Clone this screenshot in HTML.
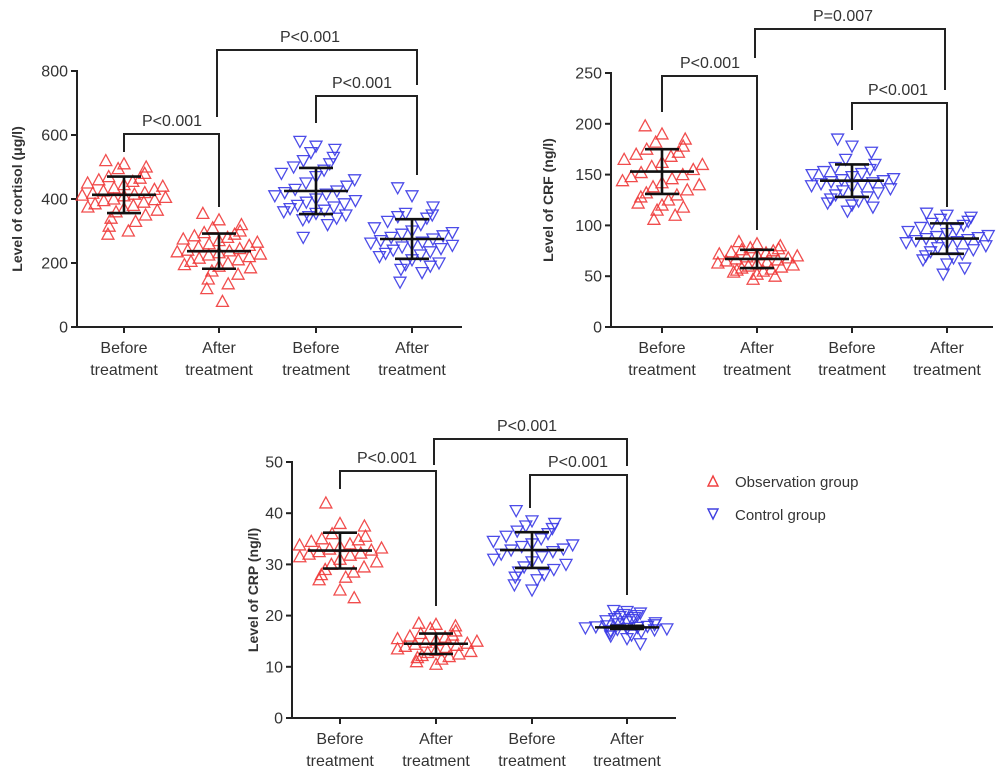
<!DOCTYPE html>
<html><head><meta charset="utf-8">
<style>
html,body{margin:0;padding:0;background:#fff;}
svg{display:block;font-family:"Liberation Sans",Arial,sans-serif;}
</style></head>
<body>
<svg id="fig" width="1004" height="776" viewBox="0 0 1004 776">
  <g id="legend">
    <g>
      <polygon points="708,486 718,486 713,476" fill="none" stroke="#f04040" stroke-width="1.4"/>
      <text x="735" y="487" font-size="15" fill="#333">Observation group</text>
    </g>
    <g>
      <polygon points="708,509 718,509 713,519" fill="none" stroke="#4040e0" stroke-width="1.4"/>
      <text x="735" y="520" font-size="15" fill="#333">Control group</text>
    </g>
  </g>
</svg>
<script>
// ---- Data ----
const categoriesLine1 = ["Before","After","Before","After"];
const categoriesLine2 = ["treatment","treatment","treatment","treatment"];
const groupTypes = ["obs","obs","ctrl","ctrl"];

const cortisolTicks = [0,200,400,600,800];
const cortisolObsBefore = [520,510,500,495,480,470,465,460,455,450,445,440,435,430,425,420,418,415,412,410,405,400,398,395,390,385,380,375,370,365,360,350,340,330,315,300,290];
const cortisolObsAfter = [355,335,320,310,300,295,290,285,280,275,270,265,260,255,250,245,240,238,235,232,228,225,220,215,210,205,200,195,190,185,175,165,150,135,120,80];
const cortisolCtrlBefore = [580,565,555,545,530,520,510,500,490,480,470,460,450,440,430,425,420,415,410,400,395,390,385,380,375,370,365,360,355,350,345,340,335,320,280];
const cortisolCtrlAfter = [435,410,375,355,350,345,340,330,320,310,300,295,290,285,280,275,270,265,262,258,255,250,245,240,235,230,225,220,210,200,195,190,180,170,140];
const cortisolMeans = [413,237,425,275];
const cortisolSD = [57,55,72,62];

const crfTicks = [0,50,100,150,200,250];
const crfObsBefore = [198,190,185,182,178,175,172,170,168,165,162,160,158,155,152,150,148,146,144,142,140,138,135,132,130,128,125,122,120,118,115,110,106];
const crfObsAfter = [84,82,80,78,77,76,75,74,73,72,71,70,69,68,67,66,65,64,63,62,61,60,59,58,57,56,55,54,52,50,47];
const crfCtrlBefore = [185,178,172,165,160,157,155,153,151,150,148,146,145,144,143,142,141,140,139,138,136,134,132,130,128,126,124,122,120,118,114];
const crfCtrlAfter = [112,110,108,106,104,102,100,98,96,94,92,90,89,88,87,86,85,84,83,82,80,78,76,74,72,70,68,66,62,58,52];
const crfMeans = [153,67,144,87];
const crfSD = [22,9,16,15];

const crpTicks = [0,10,20,30,40,50];
const crpObsBefore = [42,38,37.5,36,35.5,35,34.8,34.5,34,33.8,33.5,33.2,33,32.8,32.5,32.2,32,31.8,31.5,31,30.5,30,29.5,29,28.5,28,27.5,27,25,23.5];
const crpObsAfter = [18.5,18.3,18,17.5,17,16.5,16.2,16,15.8,15.5,15.2,15,14.8,14.6,14.4,14.2,14,13.8,13.5,13.2,13,12.8,12.5,12.2,12,11.8,11.5,11,10.5];
const crpCtrlBefore = [40.5,38.5,38,37.5,37,36.5,36,35.5,35,34.5,34,33.8,33.5,33,32.8,32.5,32,31.5,31,30.5,30,29.5,29,28.5,28,27.5,27,26,25];
const crpCtrlAfter = [21,20.8,20.5,20.2,20,19.8,19.6,19.4,19.2,19,18.8,18.6,18.4,18.2,18,17.9,17.8,17.7,17.6,17.5,17.4,17.3,17.2,17,16.8,16.5,16.2,16,15.5,14.5];
const crpMeans = [32.7,14.5,32.8,17.7];
const crpSD = [3.5,2,3.5,0.3];

const pLabelsCortisol = ["P<0.001","P<0.001","P<0.001"];
const pLabelsCrf = ["P<0.001","P=0.007","P<0.001"];
const pLabelsCrp = ["P<0.001","P<0.001","P<0.001"];

// ---- Drawing ----
const NS = "http://www.w3.org/2000/svg";
const svg = document.getElementById("fig");
function mk(tag, attrs, parent){
  const e = document.createElementNS(NS, tag);
  for (const k in attrs) e.setAttribute(k, attrs[k]);
  (parent||svg).appendChild(e);
  return e;
}

function drawChart(cfg){
  const g = mk("g", {});
  
  
  const ymax = cfg.ticks[cfg.ticks.length-1];
  const yScale = v => cfg.y0 - (v/ymax)*(cfg.y0-cfg.yTop);
  const xScale = i => cfg.cx[i];
  const yAxis = mk("line", {x1:cfg.ax, y1:cfg.yTop-1, x2:cfg.ax, y2:cfg.y0+1, stroke:"#222","stroke-width":2}, g);
  
  
  const xAxis = mk("line", {x1:cfg.ax-6, y1:cfg.y0, x2:cfg.axEnd, y2:cfg.y0, stroke:"#222","stroke-width":2}, g);
  
  
  cfg.ticks.forEach(t => {
    const y = yScale(t);
    mk("line", {x1:cfg.ax-6, y1:y, x2:cfg.ax, y2:y, stroke:"#222","stroke-width":2}, g);
    const tx = mk("text", {x:cfg.ax-9, y:y+5.5, "font-size":16, "text-anchor":"end", fill:"#333"}, g);
    tx.textContent = t;
    
    
  });
  const yt = mk("text", {x:0, y:0, "font-size":14, "text-anchor":"middle", fill:"#333", "font-weight":"bold",
    transform:`translate(${cfg.titleX},${cfg.titleY}) rotate(-90)`}, g);
  yt.textContent = cfg.title;
  
  
  for (let i=0;i<4;i++){
    const x = xScale(i);
    mk("line", {x1:x, y1:cfg.y0, x2:x, y2:cfg.y0+6, stroke:"#222","stroke-width":2}, g);
    const c1 = mk("text", {x:x, y:cfg.y0+26, "font-size":16, "text-anchor":"middle", fill:"#333"}, g);
    c1.textContent = categoriesLine1[i];
    
    
    const c2 = mk("text", {x:x, y:cfg.y0+48, "font-size":16, "text-anchor":"middle", fill:"#333"}, g);
    c2.textContent = categoriesLine2[i];
    
    
  }
  cfg.series.forEach((vals, gi) => {
    const obs = groupTypes[gi] === "obs";
    const col = obs ? "#f03a3a" : "#3838e6";
    const sg = mk("g", {}, g);
    
    
    const sdv = Math.max(cfg.sd[gi], 0.8);
    vals.forEach((v, i) => {
      const z = (v - cfg.means[gi]) / sdv;
      const w = 0.35 + 0.75*Math.exp(-z*z/2);
      const x = xScale(gi) + (((i*13)%9) - 4) * 9.5 * w;
      const y = yScale(v);
      const pts = obs
        ? `${x-6},${y+5} ${x+6},${y+5} ${x},${y-6}`
        : `${x-6},${y-5} ${x+6},${y-5} ${x},${y+6}`;
      const p = mk("polygon", {points:pts, fill:"none", stroke:col, "stroke-width":1.3, "stroke-opacity":0.9}, sg);
      
      
    });
    const cx = xScale(gi), m = yScale(cfg.means[gi]), hi = yScale(cfg.means[gi]+cfg.sd[gi]), lo = yScale(cfg.means[gi]-cfg.sd[gi]);
    const ml = mk("line", {x1:cx-32, y1:m, x2:cx+32, y2:m, stroke:"#111","stroke-width":2.6}, sg);
    
    
    const eb = mk("path", {d:`M${cx},${hi}V${lo}M${cx-17},${hi}H${cx+17}M${cx-17},${lo}H${cx+17}`, stroke:"#111","stroke-width":2.6, fill:"none"}, sg);
    
    
  });
  cfg.brackets.forEach((b, bi) => {
    const bg = mk("path", {d:`M${b.x1},${b.l}V${b.top}H${b.x2}V${b.r}`, stroke:"#222","stroke-width":2,fill:"none"}, g);
    
    
    const t = mk("text", {x:b.tx, y:b.top-8, "font-size":16, "text-anchor":"middle", fill:"#333"}, g);
    t.textContent = cfg.pLabels[bi];
    
    
  });
}

drawChart({
  name:"cortisol-chart", ticks:cortisolTicks, ax:77, axEnd:462, y0:327, yTop:71,
  cx:[124,219,316,412], title:"Level of cortisol (μg/l)", titleX:22, titleY:199,
  series:[cortisolObsBefore,cortisolObsAfter,cortisolCtrlBefore,cortisolCtrlAfter],
  means:cortisolMeans, sd:cortisolSD, pLabels:pLabelsCortisol,
  brackets:[
    {x1:124,x2:219,top:134,l:152,r:207,tx:172},
    {x1:217,x2:417,top:50,l:117,r:85,tx:310},
    {x1:316,x2:417,top:96,l:123,r:175,tx:362}
  ]
});
drawChart({
  name:"crf-chart", ticks:crfTicks, ax:611, axEnd:993, y0:327, yTop:73,
  cx:[662,757,852,947], title:"Level of CRF (ng/l)", titleX:553, titleY:200,
  series:[crfObsBefore,crfObsAfter,crfCtrlBefore,crfCtrlAfter],
  means:crfMeans, sd:crfSD, pLabels:pLabelsCrf,
  brackets:[
    {x1:662,x2:757,top:76,l:112,r:230,tx:710},
    {x1:755,x2:945,top:29,l:58,r:90,tx:843},
    {x1:852,x2:947,top:103,l:130,r:207,tx:898}
  ]
});
drawChart({
  name:"crp-chart", ticks:crpTicks, ax:292, axEnd:676, y0:718, yTop:462,
  cx:[340,436,532,627], title:"Level of CRP (ng/l)", titleX:258, titleY:590,
  series:[crpObsBefore,crpObsAfter,crpCtrlBefore,crpCtrlAfter],
  means:crpMeans, sd:crpSD, pLabels:pLabelsCrp,
  brackets:[
    {x1:340,x2:436,top:471,l:489,r:606,tx:387},
    {x1:434,x2:627,top:439,l:465,r:466,tx:527},
    {x1:530,x2:627,top:475,l:508,r:595,tx:578}
  ]
});
</script>
</body></html>
